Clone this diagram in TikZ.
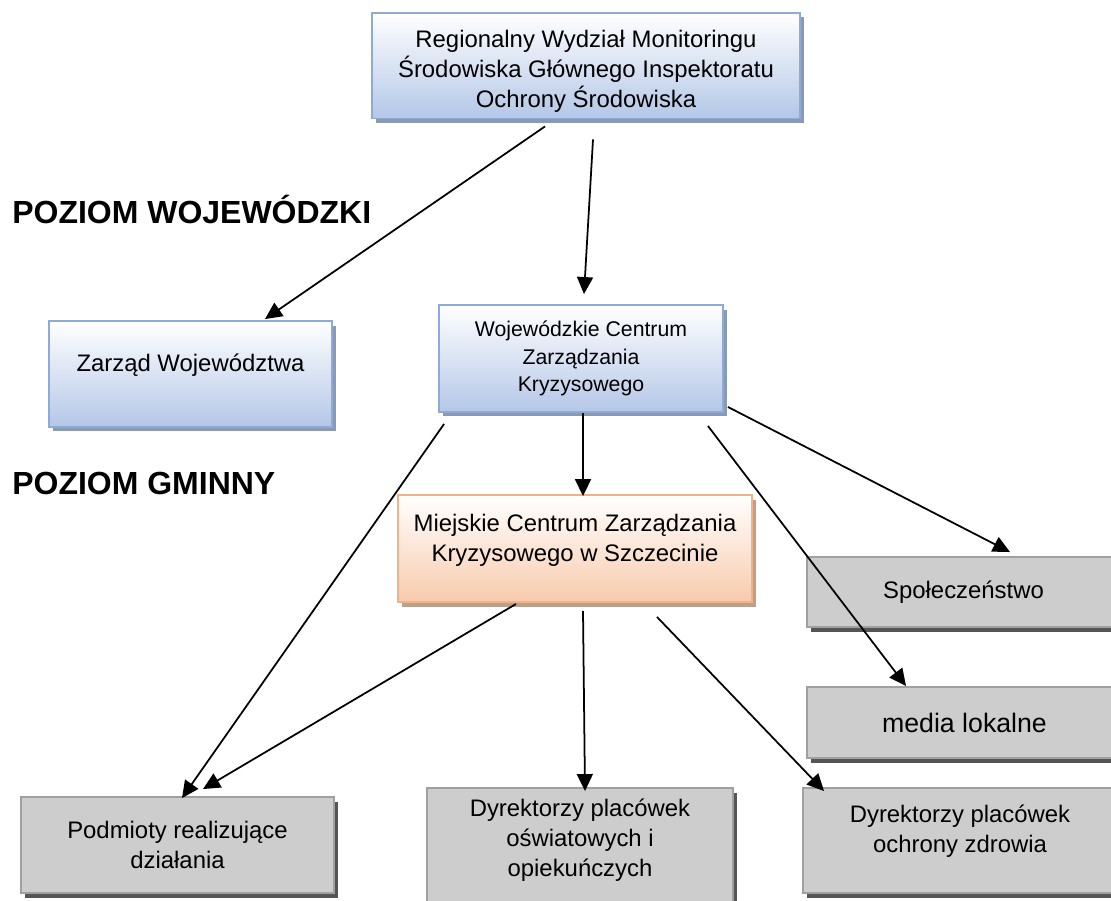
\documentclass[tikz,border=0pt]{standalone}
\usepackage{fontspec}
\setmainfont{Liberation Sans}
\usepackage{tikz}
\usetikzlibrary{calc,arrows.meta,shadows}
\definecolor{bluebot}{HTML}{B4C7E7}
\definecolor{blueline}{HTML}{8EAADB}
\definecolor{blueshadow}{HTML}{8C9AB0}
\definecolor{orangebot}{HTML}{F8CBAD}
\definecolor{orangeline}{HTML}{F4B183}
\definecolor{orangeshadow}{HTML}{B9A08F}
\definecolor{graylight}{HTML}{CDCDCD}
\definecolor{graydark}{HTML}{A3A3A3}
\definecolor{grayline}{HTML}{A0A0A0}
\definecolor{grayshadow}{HTML}{555555}
\tikzset{
  boxtext/.style={align=center,font=\fontsize{13.6}{17}\selectfont},
  bluebox/.style={boxtext,draw=blueline,line width=1.1pt,top color=white,bottom color=bluebot,
    drop shadow={shadow xshift=0.08cm,shadow yshift=-0.09cm,fill=blueshadow,opacity=1}},
  orangebox/.style={boxtext,draw=orangeline,line width=1.1pt,top color=white,bottom color=orangebot,
    drop shadow={shadow xshift=0.08cm,shadow yshift=-0.09cm,fill=orangeshadow,opacity=1}},
  graybox/.style={boxtext,draw=grayline,line width=1.1pt,top color=graylight,middle color=graydark,bottom color=graylight,
    drop shadow={shadow xshift=0.08cm,shadow yshift=-0.09cm,fill=grayshadow,opacity=1}},
  level/.style={anchor=base west,inner sep=0pt,font=\fontsize{18.2}{22}\selectfont\bfseries},
  arr/.style={-{Triangle[length=0.34cm,width=0.32cm]},line width=1pt}
}
\begin{document}
\begin{tikzpicture}[x=0.02cm,y=-0.02cm]
    \useasboundingbox (0,0) rectangle (1111,900);
    \node[level] (woj) at (12,223) {POZIOM WOJEWÓDZKI};
    \node[level] (gmi) at (12,494) {POZIOM GMINNY};
    \node[bluebox,minimum width=8.56cm,minimum height=2.1cm,text height=50.8pt] (reg) at (586,65.5)
      {Regionalny Wydział Monitoringu\\Środowiska Głównego Inspektoratu\\Ochrony Środowiska};
    \node[bluebox,minimum width=5.66cm,minimum height=2.12cm,text depth=13pt] (zarz) at (190.5,374) {Zarząd Województwa};
    \node[bluebox,minimum width=5.68cm,minimum height=2.14cm,font=\fontsize{12.1}{15.6}\selectfont] (wczk) at (581,358.5)
      {Wojewódzkie Centrum\\Zarządzania\\Kryzysowego};
    \node[orangebox,minimum width=7.08cm,minimum height=2.14cm,text depth=12pt] (mczk) at (575,548.5)
      {Miejskie Centrum Zarządzania\\Kryzysowego w Szczecinie};
    \node[graybox,minimum width=6.26cm,minimum height=1.4cm] (spol) at (963.5,592) {Społeczeństwo};
    \node[graybox,minimum width=6.3cm,minimum height=1.42cm,font=\fontsize{15.2}{17}\selectfont] (media) at (964.5,722.5) {media lokalne};
    \node[graybox,minimum width=6.28cm,minimum height=2.1cm,text depth=13pt] (dzdr) at (960,840.5)
      {Dyrektorzy placówek\\ochrony zdrowia};
    \node[graybox,minimum width=6.26cm,minimum height=1.92cm] (podm) at (177.5,845)
      {Podmioty realizujące\\działania};
    \node[graybox,minimum width=6.12cm,minimum height=2.3cm,text depth=8.6pt] (dosw) at (580,845.5)
      {Dyrektorzy placówek\\oświatowych i\\opiekuńczych};
    \draw[arr] ($(reg.south)+(-41,7)$) -- ($(zarz.north)+(74.5,-1)$);
    \draw[arr] ($(reg.south)+(7,20)$) -- ($(wczk.north)+(3,-10)$);
    \draw[arr] ($(wczk.south)+(2,0)$) -- ($(mczk.north)+(8,2)$);
    \draw[arr] ($(wczk.south west)+(6,11)$) -- ($(podm.north)+(4.5,2)$);
    \draw[arr] ($(wczk.south east)+(-16,13)$) -- ($(media.north west)+(100,0)$);
    \draw[arr] ($(wczk.south east)+(4,-6)$) -- ($(spol.north)+(46.5,-4)$);
    \draw[arr] ($(mczk.south)+(-59,1)$) -- ($(podm.north)+(25.5,-7)$);
    \draw[arr] ($(mczk.south)+(8,8)$) -- ($(dosw.north)+(5,4)$);
    \draw[arr] ($(mczk.south)+(82,14)$) -- ($(dzdr.north west)+(22,4)$);
\end{tikzpicture}
\end{document}
